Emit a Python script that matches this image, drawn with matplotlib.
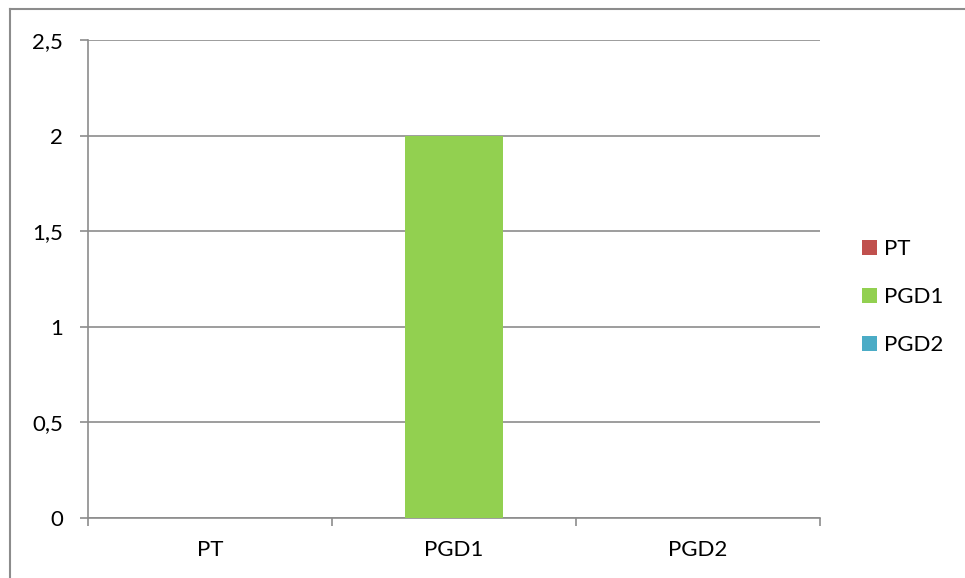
import matplotlib.pyplot as plt
from matplotlib.lines import Line2D
from matplotlib.patches import Patch

plt.rcParams['font.family'] = ['Lato', 'DejaVu Sans']

# Data
categories = ['PT', 'PGD1', 'PGD2']
values = [0, 2, 0]
colors = ['#C0504D', '#92D050', '#4BACC6']
yticks = [0, 0.5, 1, 1.5, 2, 2.5]
ytick_labels = ['0', '0,5', '1', '1,5', '2', '2,5']

GRID = '#8C8C8C'
FS = 16

fig = plt.figure(figsize=(9.65, 5.78), dpi=100)
ax = fig.add_axes([88 / 965, 1 - 518 / 578, (820 - 88) / 965, (518 - 40) / 578])

x = list(range(len(categories)))
ax.bar(x, values, width=0.4, color=colors, zorder=3)

ax.set_xlim(-0.5, len(categories) - 0.5)
ax.set_ylim(0, 2.5)
ax.set_yticks(yticks)
ax.set_yticklabels(ytick_labels)
ax.set_xticks(x)
ax.set_xticklabels(categories)
ax.tick_params(axis='x', length=0, pad=16, labelsize=FS)
ax.tick_params(axis='y', length=6, width=1.2, color=GRID, pad=12, labelsize=FS)

# category boundary ticks
ax.set_xticks([i - 0.5 for i in range(len(categories) + 1)], minor=True)
ax.tick_params(axis='x', which='minor', length=6, width=1.2, color=GRID)

ax.grid(axis='y', color=GRID, linewidth=1.2, zorder=0)
for side in ['top', 'right']:
    ax.spines[side].set_visible(False)
for side in ['left', 'bottom']:
    ax.spines[side].set_color(GRID)
    ax.spines[side].set_linewidth(1.2)

handles = [Patch(facecolor=c, edgecolor='none') for c in colors]
ax.legend(handles, categories, frameon=False, fontsize=FS,
          loc='center left', bbox_to_anchor=(1.057, 0.462),
          borderpad=0, borderaxespad=0,
          handlelength=0.68, handleheight=0.68, handletextpad=0.3,
          labelspacing=1.27)

# chart area frame
fig.add_artist(Line2D([10 / 965, 10 / 965], [0, 1 - 9 / 578],
                      transform=fig.transFigure, color=GRID, linewidth=1.5))
fig.add_artist(Line2D([10 / 965, 1], [1 - 9 / 578, 1 - 9 / 578],
                      transform=fig.transFigure, color=GRID, linewidth=1.5))

fig.savefig('out.png', dpi=100)
